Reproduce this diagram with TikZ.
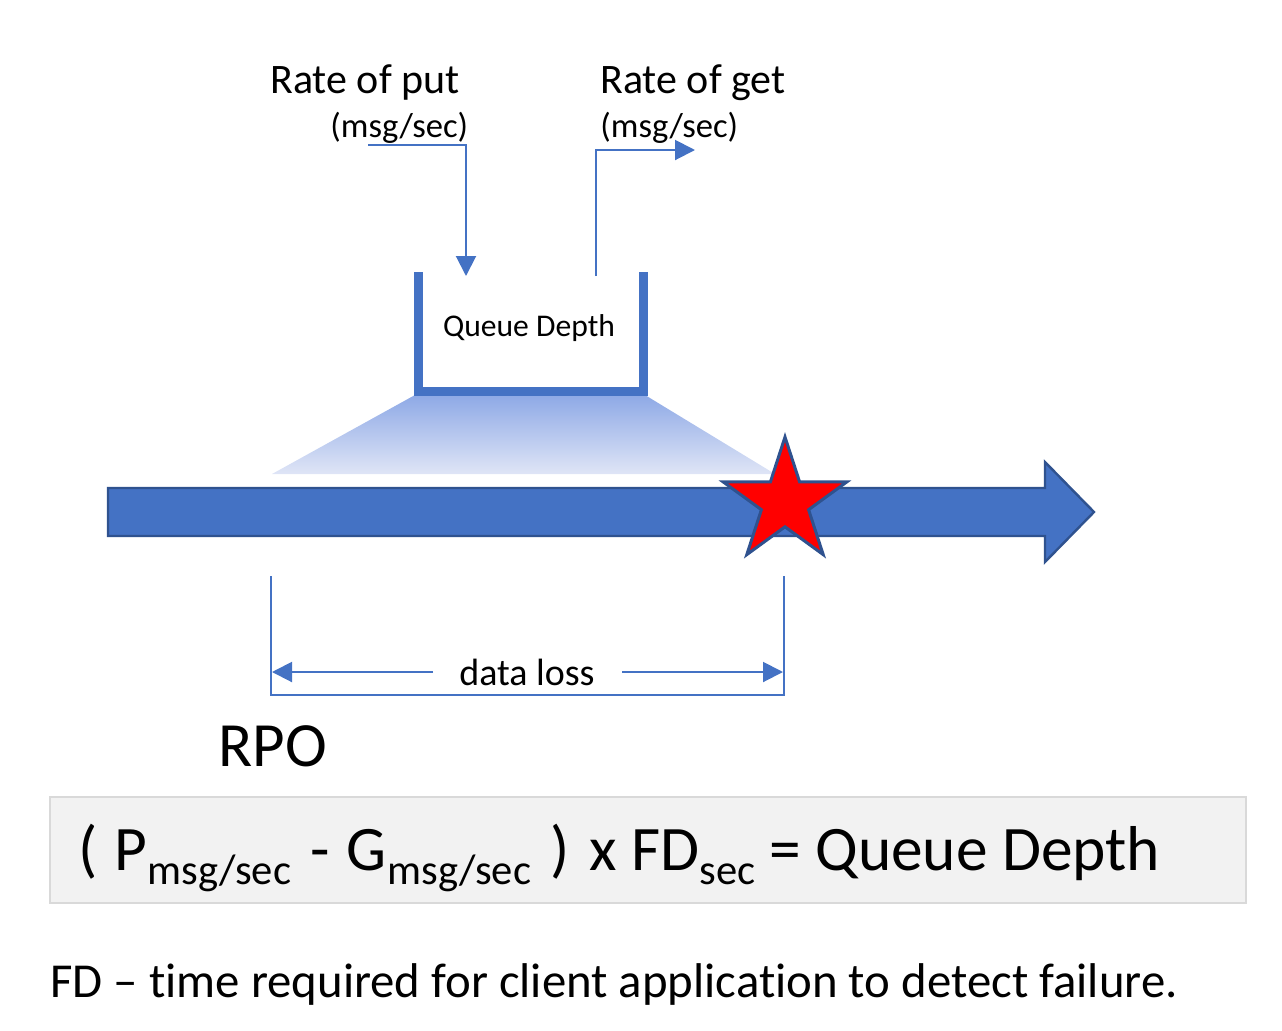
\documentclass[tikz,border=0pt]{standalone}
\usepackage{fontspec}
\setmainfont{Carlito}[Ligatures=NoCommon]
\usetikzlibrary{arrows.meta}
\definecolor{mblue}{HTML}{4472C4}
\definecolor{dblue}{HTML}{2F528F}
\definecolor{boxfill}{HTML}{F2F2F2}
\definecolor{boxline}{HTML}{D9D9D9}
\definecolor{gradtop}{HTML}{8EA9E6}
\definecolor{gradbot}{HTML}{DFE5F6}
\tikzset{
  txt/.style={inner sep=0pt, anchor=base west, text=black},
  fmain/.style={txt, font=\fontsize{31.7}{31.7}\selectfont},
  fsub/.style={txt, font=\fontsize{21.3}{21.3}\selectfont},
  thinarrow/.style={draw=mblue, line width=1pt, -{Triangle[length=10pt,width=10pt]}},
  thinline/.style={draw=mblue, line width=1pt},
  queueline/.style={draw=mblue, line width=4.5pt},
}
\begin{document}
\begin{tikzpicture}[x=0.5pt,y=-0.5pt]
\useasboundingbox (0,0) rectangle (1282,1030);
% texts
\node[txt, font=\fontsize{21}{21}\selectfont] (put) at (270,93) {Rate of put};
\node[txt, font=\fontsize{17.3}{17.3}\selectfont] (putu) at (330,137) {(msg/sec)};
\node[txt, font=\fontsize{21}{21}\selectfont] (get) at (600,93) {Rate of get};
\node[txt, font=\fontsize{17.3}{17.3}\selectfont] (getu) at (600,137) {(msg/sec)};
% gradient trapezoid
\shade[top color=gradtop, bottom color=gradbot] (415,395) -- (645,395) -- (775,474) -- (272,474) -- cycle;
% queue
\draw[queueline] (418,272) -- (418,391) -- (643,391) -- (643,272);
\node[inner sep=0pt, font=\fontsize{15.8}{15.8}\selectfont] (qd) at (529,328) {Queue Depth};
% put / get arrows
\coordinate (p0) at (368,145);
\coordinate (p1) at (466,145);
\coordinate (p2) at (466,276);
\draw[thinarrow] (p0) -- (p1) -- (p2);
\coordinate (g0) at (596,276);
\coordinate (g1) at (596,150);
\coordinate (g2) at (695,150);
\draw[thinarrow] (g0) -- (g1) -- (g2);
% main arrow
\draw[fill=mblue, draw=dblue, line width=1.2pt] (108,488) -- (1045,488) -- (1045,462) -- (1094,512) -- (1045,562) -- (1045,536) -- (108,536) -- cycle;
% star
\draw[fill=red, draw=dblue, line width=1.5pt] (785,437) -- (799.6,481.9) -- (846.8,481.9) -- (808.6,509.7) -- (823.2,554.6) -- (785,526.8) -- (746.8,554.6) -- (761.4,509.7) -- (723.2,481.9) -- (770.4,481.9) -- cycle;
% dimension
\coordinate (d1) at (271,576);
\coordinate (d2) at (271,695);
\coordinate (d3) at (784,695);
\coordinate (d4) at (784,576);
\draw[thinline] (d1) -- (d2) -- (d3) -- (d4);
\node[inner sep=0pt, font=\fontsize{19}{19}\selectfont] (dl) at (527,672) {data loss};
\coordinate (a1) at (433,672);
\coordinate (a2) at (272,672);
\coordinate (a3) at (622,672);
\coordinate (a4) at (783,672);
\draw[thinarrow] (a1) -- (a2);
\draw[thinarrow] (a3) -- (a4);
% RPO
\node[txt, font=\fontsize{31.5}{31.5}\selectfont] (rpo) at (218,766) {RPO};
% formula box
\node[draw=boxline, fill=boxfill, line width=1.2pt, minimum width=598pt, minimum height=53pt, inner sep=0pt] (box) at (648,850) {};
\node[fmain] (f1) at (78,870) {(};
\node[fmain] (f2) at (114,870) {P};
\node[fsub] (f3) at (147,884) {msg/sec};
\node[fmain] (f4) at (310,870) {-};
\node[fmain] (f5) at (346,870) {G};
\node[fsub] (f6) at (387,884) {msg/sec};
\node[fmain] (f7) at (550,870) {)};
\node[fmain] (f8) at (589,870) {x};
\node[fmain] (f9) at (631,870) {FD};
\node[fsub] (f10) at (699,884) {sec};
\node[fmain] (f11) at (769,870) {=};
\node[fmain] (f12) at (815,870) {Queue Depth};
% footer
\node[txt, font=\fontsize{24.4}{24.4}\selectfont] (foot) at (50,997) {FD – time required for client application to detect failure.};
\end{tikzpicture}
\end{document}
